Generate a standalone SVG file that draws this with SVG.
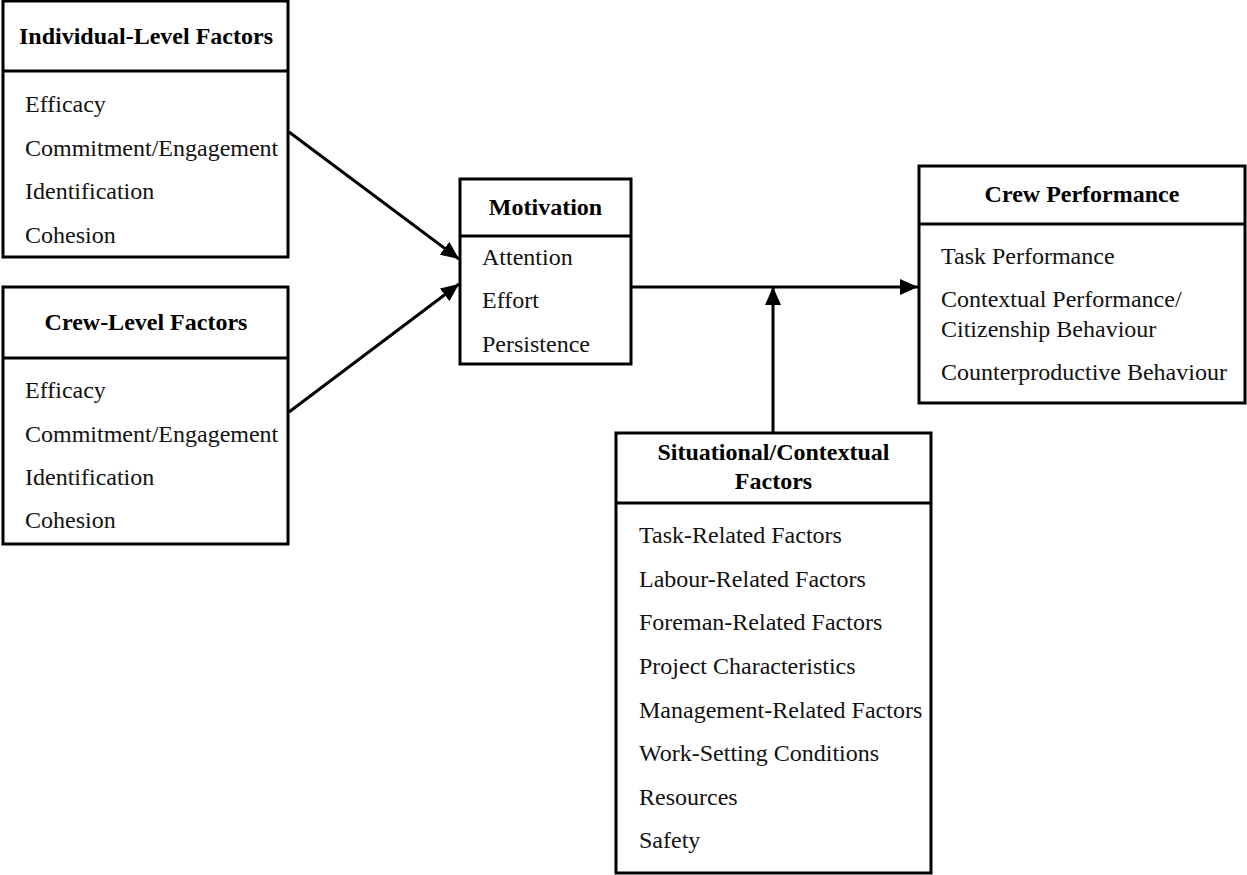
<svg xmlns="http://www.w3.org/2000/svg" width="1247" height="875" viewBox="0 0 1247 875">
<style>
.box{fill:#fff;stroke:#000;stroke-width:3}
.div{stroke:#000;stroke-width:3}
.t{font-family:"Liberation Serif","Times New Roman",serif;font-size:24px;font-weight:bold;fill:#000;text-anchor:middle}
.i{font-family:"Liberation Serif","Times New Roman",serif;font-size:24px;fill:#111}
.c{stroke:#000;stroke-width:3;fill:none}
</style>
<defs>
<marker id="arr" viewBox="0 0 18 16" refX="18" refY="8" markerWidth="18" markerHeight="16" orient="auto" markerUnits="userSpaceOnUse">
<path d="M0,0 L18,8 L0,16 Z" fill="#000"/>
</marker>
</defs>
<g id="connectors">
<line class="c" x1="289" y1="132" x2="459" y2="259" marker-end="url(#arr)"/>
<line class="c" x1="289" y1="412" x2="459" y2="284" marker-end="url(#arr)"/>
<line class="c" x1="631" y1="287" x2="918" y2="287" marker-end="url(#arr)"/>
<line class="c" x1="773" y1="433" x2="773" y2="287" marker-end="url(#arr)"/>
</g>
<g id="individual">
<rect class="box" x="3" y="1" width="285" height="256"/>
<line class="div" x1="3" y1="71" x2="288" y2="71"/>
<text class="t" x="146" y="44">Individual-Level Factors</text>
<text class="i" x="25" y="112">Efficacy</text>
<text class="i" x="25" y="156">Commitment/Engagement</text>
<text class="i" x="25" y="199">Identification</text>
<text class="i" x="25" y="243">Cohesion</text>
</g>
<g id="crew">
<rect class="box" x="3" y="287" width="285" height="257"/>
<line class="div" x1="3" y1="358" x2="288" y2="358"/>
<text class="t" x="146" y="330">Crew-Level Factors</text>
<text class="i" x="25" y="398">Efficacy</text>
<text class="i" x="25" y="442">Commitment/Engagement</text>
<text class="i" x="25" y="485">Identification</text>
<text class="i" x="25" y="528">Cohesion</text>
</g>
<g id="motivation">
<rect class="box" x="460" y="179" width="171" height="185"/>
<line class="div" x1="460" y1="236" x2="631" y2="236"/>
<text class="t" x="545.5" y="215">Motivation</text>
<text class="i" x="482" y="265">Attention</text>
<text class="i" x="482" y="308">Effort</text>
<text class="i" x="482" y="352">Persistence</text>
</g>
<g id="performance">
<rect class="box" x="919" y="166" width="326" height="237"/>
<line class="div" x1="919" y1="224" x2="1245" y2="224"/>
<text class="t" x="1082" y="202">Crew Performance</text>
<text class="i" x="941" y="264">Task Performance</text>
<text class="i" x="941" y="307">Contextual Performance/</text>
<text class="i" x="941" y="337">Citizenship Behaviour</text>
<text class="i" x="941" y="380">Counterproductive Behaviour</text>
</g>
<g id="situational">
<rect class="box" x="616" y="433" width="315" height="440"/>
<line class="div" x1="616" y1="503" x2="931" y2="503"/>
<text class="t" x="773.5" y="460">Situational/Contextual</text>
<text class="t" x="773.5" y="489">Factors</text>
<text class="i" x="639" y="543">Task-Related Factors</text>
<text class="i" x="639" y="587">Labour-Related Factors</text>
<text class="i" x="639" y="630">Foreman-Related Factors</text>
<text class="i" x="639" y="674">Project Characteristics</text>
<text class="i" x="639" y="718">Management-Related Factors</text>
<text class="i" x="639" y="761">Work-Setting Conditions</text>
<text class="i" x="639" y="805">Resources</text>
<text class="i" x="639" y="848">Safety</text>
</g>
</svg>
